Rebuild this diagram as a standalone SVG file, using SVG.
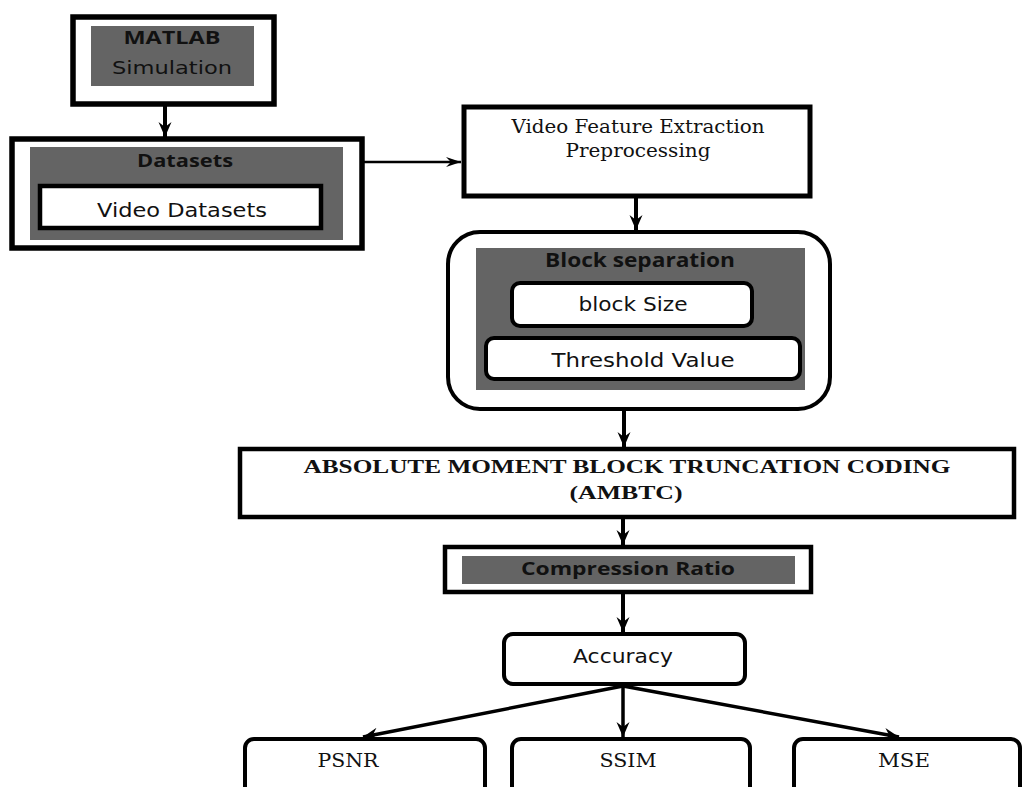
<svg xmlns="http://www.w3.org/2000/svg" width="1025" height="787" viewBox="0 0 1025 787">
<defs>
<marker id="ah" markerUnits="userSpaceOnUse" markerWidth="16" markerHeight="14" refX="15" refY="7" orient="auto">
<path d="M0,0.5 L15,7 L0,13.5 L5,7 z" fill="#000"/>
</marker>
<marker id="ahs" markerUnits="userSpaceOnUse" markerWidth="16" markerHeight="12" refX="15" refY="6" orient="auto">
<path d="M0,1 L15,6 L0,11 L5,6 z" fill="#000"/>
</marker>
<style>
.box{fill:#fff;stroke:#000}
.gray{fill:#646464;stroke:none}
.hd{font-family:"Open Sans","Liberation Sans",sans-serif;font-weight:bold;fill:#111;text-anchor:middle}
.sn{font-family:"DejaVu Sans","Liberation Sans",sans-serif;fill:#111;text-anchor:middle}
.sf{font-family:"DejaVu Serif","Liberation Serif",serif;fill:#111;text-anchor:middle}
.sfb{font-family:"Liberation Serif","DejaVu Serif",serif;font-weight:bold;fill:#111;text-anchor:middle}
.conn{stroke:#000;fill:none}
</style>
</defs>
<rect width="1025" height="787" fill="#fff"/>

<g id="matlab">
<rect class="box" x="73" y="17" width="201" height="87" stroke-width="5.5"/>
<rect class="gray" x="91" y="26" width="163" height="60"/>
<text class="hd" x="172" y="44" font-size="17" textLength="97" lengthAdjust="spacingAndGlyphs">MATLAB</text>
<text class="sn" x="172" y="74" font-size="17" fill="#222" textLength="120" lengthAdjust="spacingAndGlyphs">Simulation</text>
</g>

<g id="datasets">
<rect class="box" x="12" y="139" width="350" height="109" stroke-width="5.5"/>
<rect class="gray" x="30" y="147" width="313" height="93"/>
<text class="hd" x="185" y="167" font-size="18" textLength="96" lengthAdjust="spacingAndGlyphs">Datasets</text>
<rect class="box" x="40" y="186" width="281" height="42" stroke-width="4.5"/>
<text class="sn" x="182" y="217" font-size="20" textLength="170" lengthAdjust="spacingAndGlyphs">Video Datasets</text>
</g>

<g id="video-feature">
<rect class="box" x="464" y="107" width="346" height="89" stroke-width="5"/>
<text class="sf" x="638" y="133" font-size="19" textLength="253" lengthAdjust="spacingAndGlyphs">Video Feature Extraction</text>
<text class="sf" x="638" y="157" font-size="19" textLength="145" lengthAdjust="spacingAndGlyphs">Preprocessing</text>
</g>

<g id="block-separation">
<rect class="box" x="448" y="232" width="382" height="177" rx="32" ry="32" stroke-width="4"/>
<rect class="gray" x="476" y="248" width="329" height="142"/>
<text class="hd" x="640" y="267" font-size="19" textLength="190" lengthAdjust="spacingAndGlyphs">Block separation</text>
<rect class="box" x="512" y="283" width="240" height="43" rx="8" ry="8" stroke-width="4"/>
<text class="sn" x="633" y="311" font-size="19" textLength="109" lengthAdjust="spacingAndGlyphs">block Size</text>
<rect class="box" x="486" y="338" width="314" height="41" rx="8" ry="8" stroke-width="4"/>
<text class="sn" x="643" y="367" font-size="19" textLength="183" lengthAdjust="spacingAndGlyphs">Threshold Value</text>
</g>

<g id="ambtc">
<rect class="box" x="240" y="449" width="774" height="68" stroke-width="4.5"/>
<text class="sfb" x="627" y="473" font-size="18" textLength="647" lengthAdjust="spacingAndGlyphs">ABSOLUTE MOMENT BLOCK TRUNCATION CODING</text>
<text class="sfb" x="626" y="499" font-size="18" textLength="113" lengthAdjust="spacingAndGlyphs">(AMBTC)</text>
</g>

<g id="compression-ratio">
<rect class="box" x="445" y="547" width="366" height="45" stroke-width="4.5"/>
<rect class="gray" x="462" y="556" width="333" height="28"/>
<text class="hd" x="628" y="575" font-size="18" textLength="214" lengthAdjust="spacingAndGlyphs">Compression Ratio</text>
</g>

<g id="accuracy">
<rect class="box" x="504" y="634" width="241" height="50" rx="9" ry="9" stroke-width="4"/>
<text class="sn" x="623" y="663" font-size="19" textLength="100" lengthAdjust="spacingAndGlyphs">Accuracy</text>
</g>

<g id="psnr">
<rect class="box" x="245" y="739" width="240" height="70" rx="9" ry="9" stroke-width="4"/>
<text class="sf" x="348" y="767" font-size="19" textLength="61" lengthAdjust="spacingAndGlyphs">PSNR</text>
</g>
<g id="ssim">
<rect class="box" x="512" y="739" width="238" height="70" rx="9" ry="9" stroke-width="4"/>
<text class="sf" x="628" y="767" font-size="19" textLength="57" lengthAdjust="spacingAndGlyphs">SSIM</text>
</g>
<g id="mse">
<rect class="box" x="794" y="739" width="226" height="70" rx="9" ry="9" stroke-width="4"/>
<text class="sf" x="904" y="767" font-size="19" textLength="52" lengthAdjust="spacingAndGlyphs">MSE</text>
</g>

<g id="connectors">
<line class="conn" x1="165" y1="106" x2="165" y2="137" stroke-width="4" marker-end="url(#ah)"/>
<line class="conn" x1="364" y1="162" x2="461" y2="162" stroke-width="2.5" marker-end="url(#ahs)"/>
<line class="conn" x1="636" y1="198" x2="636" y2="230" stroke-width="4" marker-end="url(#ah)"/>
<line class="conn" x1="624" y1="410" x2="624" y2="447" stroke-width="4" marker-end="url(#ah)"/>
<line class="conn" x1="623" y1="519" x2="623" y2="545" stroke-width="4" marker-end="url(#ah)"/>
<line class="conn" x1="623" y1="594" x2="623" y2="632" stroke-width="4" marker-end="url(#ah)"/>
<line class="conn" x1="623" y1="686" x2="363" y2="737" stroke-width="3.5" marker-end="url(#ah)"/>
<line class="conn" x1="623" y1="686" x2="623" y2="737" stroke-width="3.5" marker-end="url(#ah)"/>
<line class="conn" x1="623" y1="686" x2="899" y2="737" stroke-width="3.5" marker-end="url(#ah)"/>
</g>
</svg>
